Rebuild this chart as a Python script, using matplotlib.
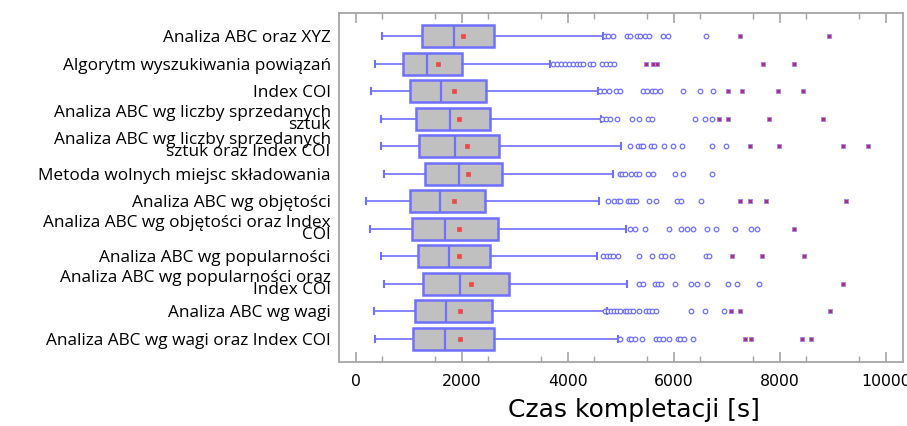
import matplotlib
matplotlib.use("Agg")
import matplotlib.pyplot as plt
import numpy as np

# Category names (top to bottom)
categories = [
    "Analiza ABC oraz XYZ",
    "Algorytm wyszukiwania powiązań",
    "Index COI",
    "Analiza ABC wg liczby sprzedanych\nsztuk",
    "Analiza ABC wg liczby sprzedanych\nsztuk oraz Index COI",
    "Metoda wolnych miejsc składowania",
    "Analiza ABC wg objętości",
    "Analiza ABC wg objętości oraz Index\nCOI",
    "Analiza ABC wg popularności",
    "Analiza ABC wg popularności oraz\nIndex COI",
    "Analiza ABC wg wagi",
    "Analiza ABC wg wagi oraz Index COI",
]

# Box statistics [s]
whisker_low = [500, 370, 290, 480, 480, 540, 200, 270, 470, 540, 350, 370]
q1 = [1245, 900, 1025, 1140, 1195, 1310, 1015, 1055, 1170, 1275, 1110, 1075]
median = [1855, 1340, 1615, 1785, 1865, 1955, 1595, 1685, 1750, 1975, 1695, 1675]
mean = [2025, 1555, 1860, 1945, 2095, 2125, 1860, 1955, 1955, 2175, 1970, 1970]
q3 = [2615, 2005, 2460, 2535, 2710, 2760, 2445, 2680, 2535, 2900, 2575, 2615]
whisker_high = [4660, 3670, 4565, 4620, 4995, 4850, 4585, 5100, 4550, 5115, 4730, 4950]

# Outliers (open circles)
outliers = [
    [4700, 4760, 4850, 5110, 5180, 5300, 5370, 5450, 5540, 5790, 5880, 6610],
    [3720, 3800, 3880, 3950, 4020, 4100, 4170, 4230, 4280, 4420, 4470,
     4640, 4720, 4800, 4880],
    [4600, 4680, 4770, 4900, 4990, 5410, 5500, 5580, 5650, 5730, 6170,
     6500, 6740],
    [4650, 4720, 4800, 4930, 5210, 5350, 5510, 5590, 6390, 6580, 6710],
    [5180, 5320, 5380, 5420, 5570, 5630, 5810, 5980, 6150, 6710, 6990],
    [4980, 5030, 5070, 5200, 5280, 5350, 5510, 5600, 6030, 6180, 6710],
    [4760, 4880, 4940, 4980, 5130, 5180, 5230, 5290, 5540, 5670, 6050,
     6140, 6520],
    [5180, 5260, 5450, 5910, 6140, 6240, 6370, 6620, 6800, 7160, 7460, 7570],
    [4660, 4740, 4800, 4860, 4940, 5350, 5590, 5760, 5830, 5970, 6600, 6660],
    [5350, 5410, 5650, 5700, 5760, 6030, 6320, 6440, 6620, 7020, 7190, 7610],
    [4700, 4760, 4820, 4880, 4920, 4980, 5070, 5120, 5170, 5230, 5340,
     5480, 5540, 5580, 5670, 6330, 6580, 6940],
    [4980, 5150, 5200, 5260, 5390, 5670, 5720, 5790, 5910, 6070, 6120,
     6200, 6360],
]

# Extreme outliers (filled markers)
extremes = [
    [7250, 8930],
    [5480, 5610, 5690, 7680, 8270],
    [7020, 7280, 7960, 8440],
    [6850, 7020, 7790, 8810],
    [7430, 7980, 9180, 9660],
    [],
    [7250, 7430, 7730, 9240],
    [8270],
    [7100, 7670, 8450],
    [9190],
    [7070, 7240, 8940],
    [7350, 7460, 8420, 8590],
]

x_label = "Czas kompletacji [s]"
x_ticks = [0, 2000, 4000, 6000, 8000, 10000]

blue = "#7070ff"
gray_face = "#c0c0c0"
mean_red = "#f04848"
extreme_col = "#b02c7c"
spine_col = "#a6a6a6"

fig = plt.figure(figsize=(9.07, 4.26), dpi=100)
ax = fig.add_axes([339 / 907, 1 - 362 / 426, (902.7 - 339) / 907, (362 - 13) / 426])

positions = np.arange(1, len(categories) + 1)
stats = []
for i in range(len(categories)):
    stats.append(dict(whislo=whisker_low[i], q1=q1[i], med=median[i],
                      q3=q3[i], whishi=whisker_high[i], mean=mean[i],
                      fliers=outliers[i]))

ax.bxp(stats, positions=positions, vert=False, widths=0.8, patch_artist=True,
       showmeans=True, capwidths=0.22,
       boxprops=dict(facecolor=gray_face, edgecolor=blue, linewidth=1.8),
       medianprops=dict(color=blue, linewidth=1.6),
       whiskerprops=dict(color=blue, linewidth=1.2),
       capprops=dict(color=blue, linewidth=1.5),
       meanprops=dict(marker="s", markersize=2.2, markerfacecolor=mean_red,
                      markeredgecolor=mean_red, markeredgewidth=0.5),
       flierprops=dict(marker="o", markersize=3.3, markerfacecolor="white",
                       markeredgecolor=blue, markeredgewidth=0.9))

for pos, ext in zip(positions, extremes):
    if ext:
        ax.plot(ext, [pos] * len(ext), linestyle="none", marker="s",
                markersize=3.0, markerfacecolor=extreme_col,
                markeredgecolor="#a08af0", markeredgewidth=0.7)

ax.set_ylim(12.85, 0.15)
ax.set_xlim(-315, 10315)

ax.set_yticks(positions)
ax.set_yticklabels(categories, fontfamily="Open Sans", fontsize=12.4,
                   linespacing=0.66)
ax.tick_params(axis="y", length=0, pad=6)

ax.set_xticks(x_ticks)
ax.set_xticklabels([str(t) for t in x_ticks], fontfamily="DejaVu Sans",
                   fontsize=11.3)
ax.set_xticks(np.arange(500, 10001, 1000), minor=True)
ax.tick_params(axis="x", which="major", direction="in", length=7, width=1.2,
               color=spine_col, top=True, bottom=True, pad=9)
ax.tick_params(axis="x", which="minor", direction="in", length=4, width=1.0,
               color=spine_col, top=True, bottom=True)
xl = ax.set_xlabel(x_label, fontfamily="DejaVu Sans", fontsize=18)
xl.set_verticalalignment("center")
ax.xaxis.set_label_coords(0.523, -0.138)

for sp in ax.spines.values():
    sp.set_color(spine_col)
    sp.set_linewidth(1.3)

fig.savefig("out.png", dpi=100)
